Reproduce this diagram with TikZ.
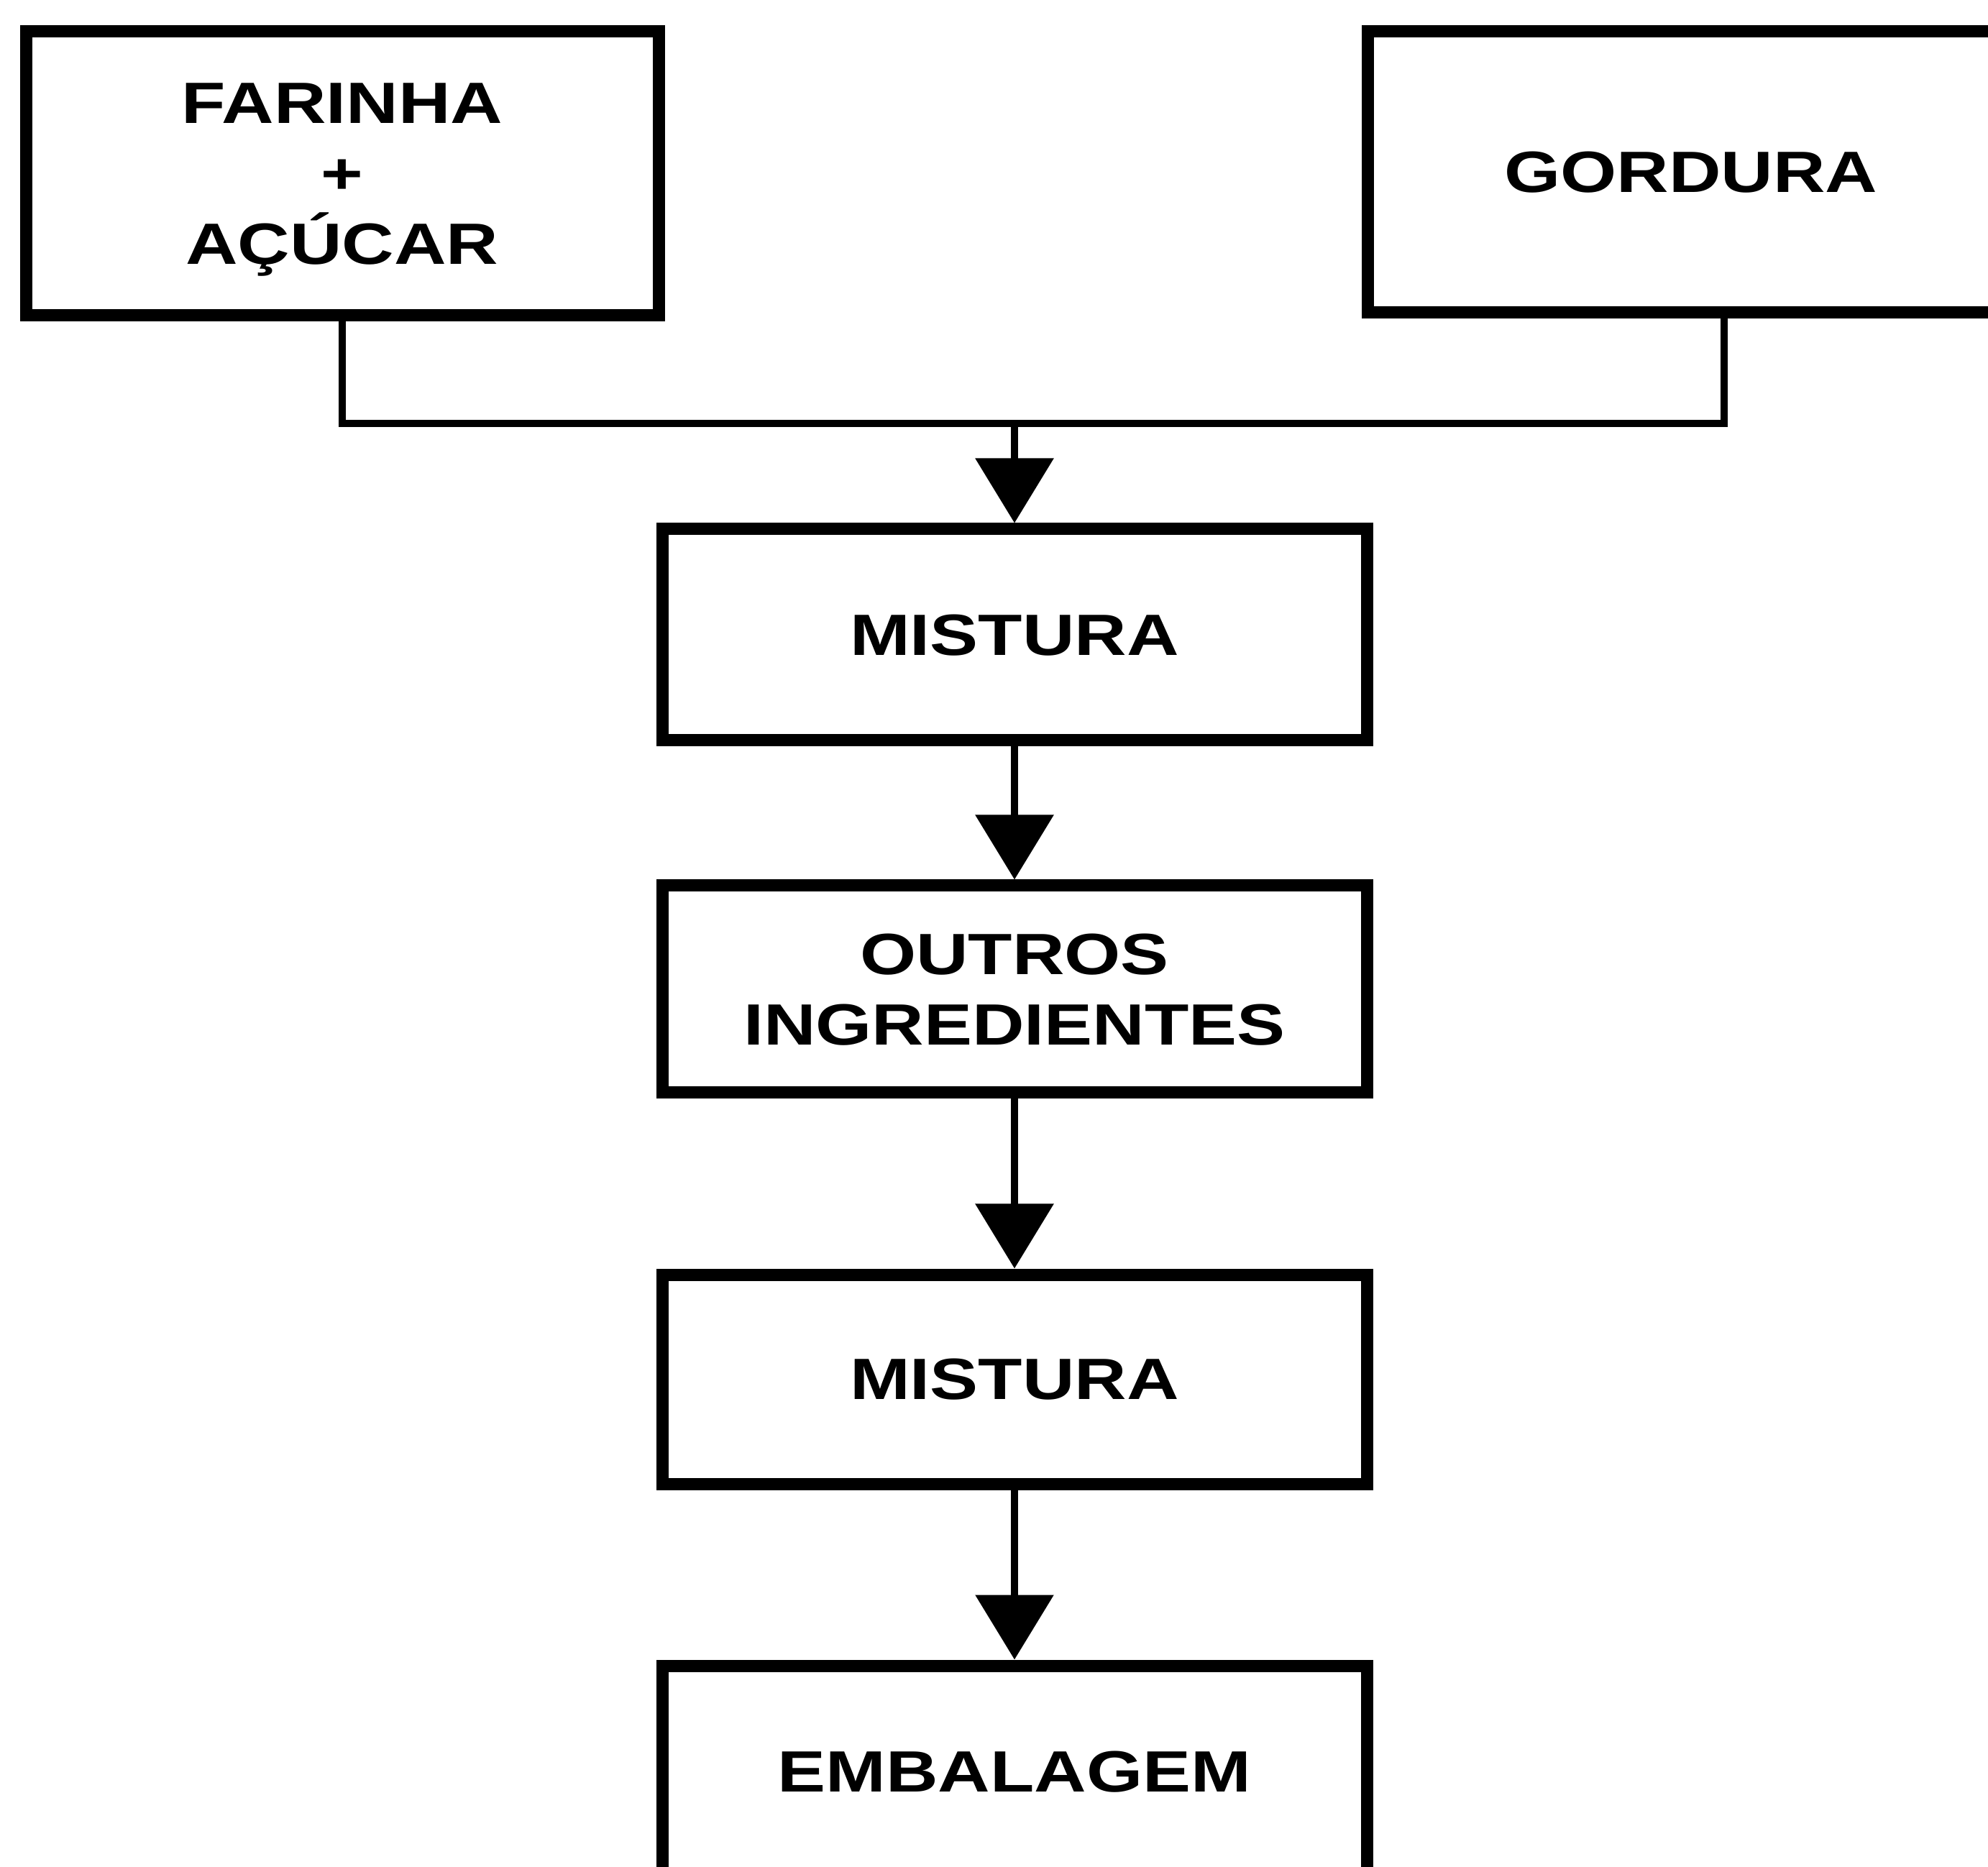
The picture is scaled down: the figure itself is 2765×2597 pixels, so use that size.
\documentclass[tikz,border=0pt]{standalone}
\usepackage{fontspec}
\newfontfamily\lblfont[FakeStretch=1.24]{Liberation Sans}
\usetikzlibrary{arrows.meta}
\begin{document}
\begin{tikzpicture}[x=0.25pt,y=-0.25pt,
  lbl/.style={font=\lblfont\bfseries\fontsize{20.25pt}{24.5pt}\selectfont,align=center,inner sep=0pt},
  box/.style={lbl,draw=black,line width=4.25pt,text depth=0pt},
  conn/.style={draw=black,line width=2.5pt},
  arr/.style={conn,-{Triangle[width=26.75pt,length=22.5pt]}}]
\useasboundingbox (0,0) rectangle (2765,2597);
\fill[white] (0,0) rectangle (2765,2597);
\clip (0,0) rectangle (2765,2597);

\node[box,minimum width=220pt,minimum height=98.75pt] (f) at (476,241.5) {FARINHA\\+\\AÇÚCAR};
\node[box,minimum width=248pt,minimum height=97.75pt] (g) at (2398,239) {};
\node[lbl] (gt) at (2352,240) {GORDURA};
\node[box,minimum width=245pt,minimum height=73.5pt] (m1) at (1411,883) {MISTURA};
\node[box,minimum width=245pt,minimum height=72pt] (o) at (1411,1376) {OUTROS\\INGREDIENTES};
\node[box,minimum width=245pt,minimum height=72.75pt] (m2) at (1411,1918.5) {MISTURA};
\node[box,minimum width=245pt,minimum height=73.75pt] (e) at (1411,2464.5) {EMBALAGEM};

\coordinate (j) at (1411,589);
\draw[conn] (f.south) |- (j) -| (g.south);
\draw[arr] (j) -- (m1.north);
\draw[arr] (m1.south) -- (o.north);
\draw[arr] (o.south) -- (m2.north);
\draw[arr] (m2.south) -- (e.north);
\end{tikzpicture}
\end{document}
